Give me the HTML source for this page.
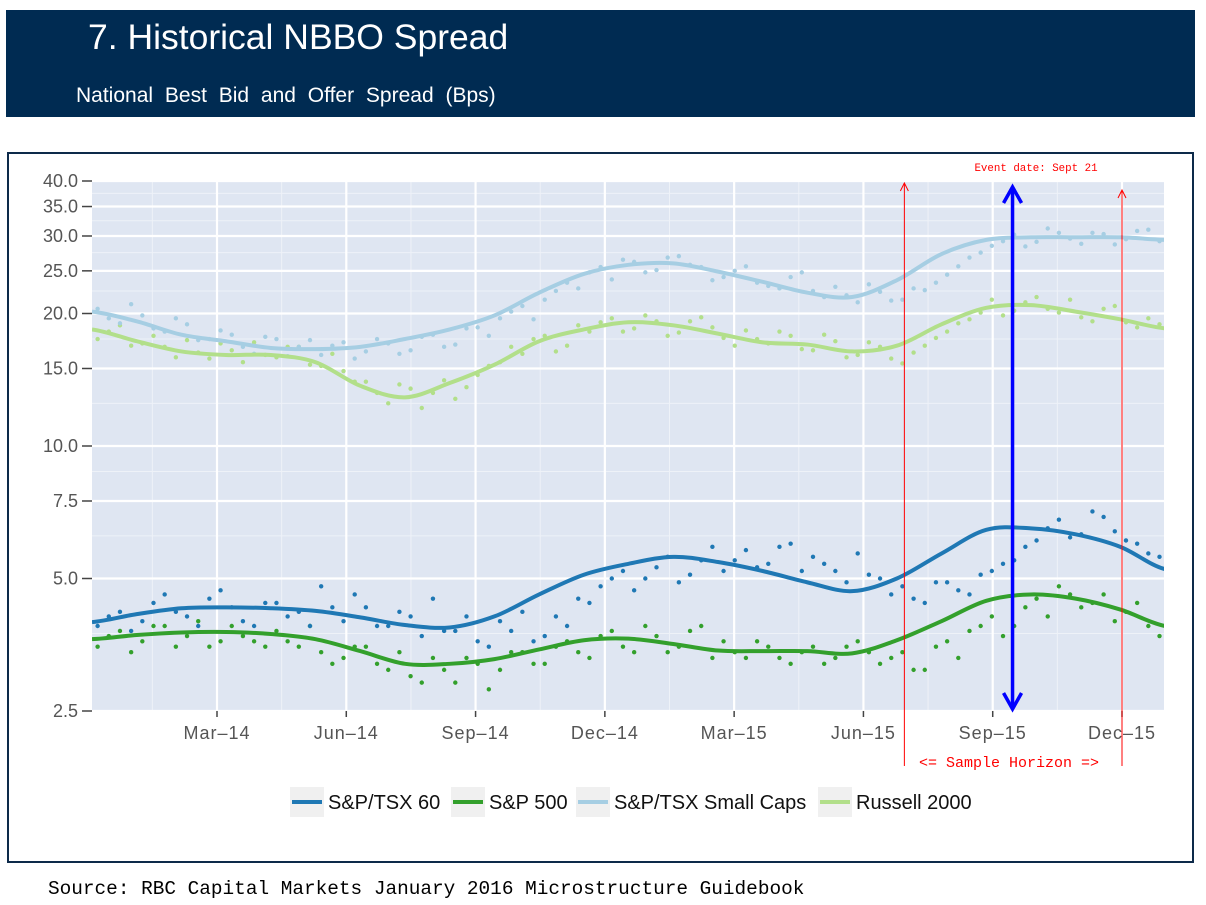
<!DOCTYPE html>
<html><head><meta charset="utf-8"><style>
body{margin:0;width:1206px;height:900px;background:#fff;overflow:hidden;font-family:"Liberation Sans",sans-serif;}
</style></head><body>
<svg id="c" width="1206" height="900" xmlns="http://www.w3.org/2000/svg">
<rect x="6" y="10" width="1189" height="107" fill="#002b52"/>
<text x="88" y="49" fill="#fff" font-size="35.5" font-family="Liberation Sans,sans-serif">7.  Historical NBBO Spread</text>
<text x="76" y="102" fill="#fff" font-size="21" font-family="Liberation Sans,sans-serif" word-spacing="6">National Best Bid and Offer Spread (Bps)</text>
<rect x="8" y="153" width="1185" height="709" fill="#fff" stroke="#0d2a4a" stroke-width="2"/>
<rect x="92" y="181" width="1072" height="530" fill="#dfe6f2"/>
<g id="grid"></g><g id="pts"></g><g id="lines"></g><g id="axes"></g><g id="ann"></g><g id="legend"></g>
<text x="48" y="894" font-size="19.4" font-family="Liberation Mono,monospace" fill="#000">Source: RBC Capital Markets January 2016 Microstructure Guidebook</text>
</svg>
<script>
const yTicks=[2.5,5.0,7.5,10.0,15.0,20.0,25.0,30.0,35.0,40.0];
const xTickLabels=["Mar–14","Jun–14","Sep–14","Dec–14","Mar–15","Jun–15","Sep–15","Dec–15"];
const xTickMonths=[2,5,8,11,14,17,20,23];
const seriesNames=["S&P/TSX 60","S&P 500","S&P/TSX Small Caps","Russell 2000"];
const seriesColors=["#1f78b4","#33a02c","#a6cee3","#b2df8a"];
const trendTSX60=[3.98,4.15,4.28,4.3,4.28,4.22,4.08,3.92,3.87,4.1,4.6,5.1,5.4,5.6,5.45,5.2,4.9,4.68,5.0,5.7,6.45,6.5,6.3,5.9,5.25];
const trendSP500=[3.64,3.72,3.77,3.78,3.74,3.64,3.42,3.2,3.2,3.28,3.45,3.62,3.65,3.55,3.43,3.42,3.42,3.38,3.62,4.0,4.45,4.6,4.5,4.25,3.9];
const trendSmall=[20.2,19.2,17.9,17.3,16.7,16.6,16.8,17.5,18.4,19.8,22.3,24.6,25.8,26,24.9,23.6,22.3,21.8,23.8,27.3,29.4,29.8,29.8,29.8,29.4];
const trendRussell=[18.4,17.3,16.4,16.1,16.1,15.5,13.7,12.9,13.9,15.3,17.3,18.4,19.1,18.8,18,17.2,17,16.4,16.9,18.9,20.6,20.9,20.2,19.4,18.5];
const ptsTSX60=[3.9,4.2,4.0,4.6,4.1,4.5,4.3,3.9,4.4,4.2,4.8,4.0,4.3,3.9,4.1,4.5,3.8,3.6,4.0,4.2,3.7,3.9,4.4,5.0,4.7,5.3,4.9,5.5,5.2,5.8,5.4,6.0,5.6,5.2,5.7,5.0,4.8,4.4,4.9,4.6,5.2,5.5,6.1,6.8,6.3,6.9,6.1,5.7];
const ptsSP500=[3.5,3.8,3.6,3.9,3.7,3.5,3.9,3.6,3.8,3.5,3.4,3.3,3.5,3.1,3.0,3.3,2.9,3.2,3.1,3.4,3.2,3.6,3.3,3.8,3.4,3.7,3.5,3.9,3.6,3.3,3.5,3.2,3.5,3.3,3.6,3.2,3.4,3.1,3.6,3.8,4.1,3.9,4.5,4.8,4.3,4.6,4.2,3.9];
const ptsSmall=[20.5,19,19.8,18.2,18.9,17.5,17.9,16.2,17.5,16.8,16.1,17.2,16.4,17.1,16.5,17.9,17.0,18.6,19.5,20.8,21.5,23.5,24.8,23.9,26.2,25.1,27,25.5,24.2,25.6,23.1,24.2,22.5,23,21.2,22.4,21.5,22.6,24.5,26.8,28.5,30.2,29.1,30.5,28.8,30.3,29.5,31];
const ptsRussell=[17.5,18.8,17.1,16.8,17.4,15.8,16.5,17.2,15.9,16.8,15.2,14.8,14,12.5,13.5,13.2,12.8,14.5,15.5,16.2,17.8,16.9,18.2,19.5,18.5,19.2,18.1,19.6,17.6,18.3,17.1,17.8,16.5,17.3,16.1,16.8,15.4,16.9,18.2,19.4,21.5,20.3,21.8,20.1,19.6,20.5,19.1,19.5];
const ptsTSX60b=[4.1,3.8,4.4,4.2,3.9,4.7,4.0,4.4,4.1,3.9,4.3,4.6,3.9,4.2,3.7,3.8,4.1,3.5,3.8,3.6,4.1,4.5,4.8,5.2,5.0,5.6,5.1,5.9,5.5,5.3,5.9,5.2,5.4,4.9,5.1,4.6,4.5,4.9,4.7,5.1,5.4,5.9,6.5,6.2,7.1,6.4,6.0,5.6];
const ptsSP500b=[3.7,3.4,3.9,3.5,4.0,3.6,3.7,3.5,3.6,3.9,3.2,3.5,3.2,3.4,2.9,3.1,3.3,2.8,3.4,3.2,3.5,3.4,3.7,3.5,3.9,3.4,3.8,3.3,3.4,3.6,3.3,3.4,3.2,3.5,3.4,3.3,3.1,3.5,3.3,3.9,3.7,4.3,4.1,4.6,4.4,4.0,4.4,3.7];
const ptsSmallb=[19.5,21,18.5,19.5,17.4,18.3,16.8,17.7,16.0,17.4,16.9,15.8,17.5,16.2,17.7,16.8,18.5,17.8,20.2,19.4,22.5,22.8,25.5,26.5,24.8,26.8,25.8,23.8,25,23.5,22.8,24.8,21.8,22,23.3,21.4,22.8,23.5,25.6,27.5,29.2,28.4,31.2,29.6,30.5,28.7,30.8,29.2];
const ptsRussellb=[18.2,16.9,17.8,15.9,16.3,17.1,15.5,16.1,16.8,15.3,16.2,14,13.2,13.8,12.2,14.1,13.6,15.2,16.8,17.5,16.4,18.8,19.1,18.2,19.8,17.8,19.2,18.6,16.9,17.5,18.2,16.6,17.9,15.9,17.2,15.8,16.3,17.6,19,20.1,19.8,21.2,20.5,21.5,19.2,20.8,18.6,18.9];
const eventMonth=20.46, horizonStart=17.95, horizonEnd=23;
const startMonth=-0.9, endMonth=24;

const X0=92,X1=1164,Y0=711,Y1=181;
const pxPerMonth=(1122-217)/21;
function xs(m){return 217+(m-2)*pxPerMonth;}
function ys(v){return Y0-(Math.log(v/2.5)/Math.log(16))*(Y0-Y1);}
const NS="http://www.w3.org/2000/svg";
function mk(tag,attrs,parent){const e=document.createElementNS(NS,tag);for(const k in attrs)e.setAttribute(k,attrs[k]);document.getElementById(parent).appendChild(e);return e;}

for(let i=0;i<yTicks.length-1;i++){const m=(yTicks[i]+yTicks[i+1])/2;
 const g=mk('line',{x1:X0,x2:X1,y1:ys(m),y2:ys(m),stroke:'#eef2f8','stroke-width':1},'grid');
 
 }
for(let i=-1;i<xTickMonths.length;i++){const m=i<0?0.5:xTickMonths[i]+1.5;const x=xs(m);if(x<X0||x>X1)continue;
 const g=mk('line',{x1:x,x2:x,y1:Y1,y2:Y0,stroke:'#eef2f8','stroke-width':1},'grid');
 
 }
yTicks.forEach(v=>{const y=ys(v);
 const g=mk('line',{x1:X0,x2:X1,y1:y,y2:y,stroke:'#fff','stroke-width':2.2},'grid');
 
 
 const t=mk('line',{x1:X0-10,x2:X0,y1:y,y2:y,stroke:'#444','stroke-width':1.5},'axes');
 
 
 const l=mk('text',{x:X0-14,y:y+6,'text-anchor':'end','font-size':18,fill:'#555'},'axes');
 l.textContent=v.toFixed(1);
 
 });
xTickMonths.forEach((m,i)=>{const x=xs(m);
 const g=mk('line',{x1:x,x2:x,y1:Y1,y2:Y0,stroke:'#fff','stroke-width':2.2},'grid');
 
 
 const t=mk('line',{x1:x,x2:x,y1:Y0,y2:Y0+6,stroke:'#444','stroke-width':1.5},'axes');
 
 
 const l=mk('text',{x:x,y:Y0+28,'text-anchor':'middle','font-size':18,'letter-spacing':1,fill:'#555'},'axes');
 l.textContent=xTickLabels[i];
 
 });

const trends=[trendTSX60,trendSP500,trendSmall,trendRussell];
const ptsA=[ptsTSX60,ptsSP500,ptsSmall,ptsRussell];
const ptsB=[ptsTSX60b,ptsSP500b,ptsSmallb,ptsRussellb];
const order=[3,2,1,0];
const span=endMonth-startMonth;
order.forEach(s=>{[ptsA[s],ptsB[s]].forEach((arr,k)=>{arr.forEach((v,i)=>{const m=startMonth+(i+0.25+k*0.5)*span/arr.length;
 const c=mk('circle',{cx:xs(m),cy:ys(v),r:2.2,fill:seriesColors[s]},'pts');
 
 });});});
order.forEach(s=>{const tr=trends[s];const step=span/(tr.length-1);const sp=step*pxPerMonth;
 const tx=i=>xs(startMonth+i*step);
 let d='';tr.forEach((v,i)=>{const x=tx(i),y=ys(v);
  if(i===0)d+='M'+x+','+y;else{const px=tx(i-1),py=ys(tr[i-1]);
   const p0y=i>1?ys(tr[i-2]):py, p3y=i<tr.length-1?ys(tr[i+1]):y;
   d+=' C'+(px+sp/3)+','+(py+(y-p0y)/6)+' '+(x-sp/3)+','+(y-(p3y-py)/6)+' '+x+','+y;}});
 const p=mk('path',{d:d,fill:'none',stroke:seriesColors[s],'stroke-width':4},'lines');
 
 });
mk('clipPath',{id:'cp'},'lines').appendChild(document.createElementNS(NS,'rect'));
const cr=document.querySelector('#cp rect');cr.setAttribute('x',X0);cr.setAttribute('y',Y1);cr.setAttribute('width',X1-X0);cr.setAttribute('height',Y0-Y1);
document.getElementById('lines').setAttribute('clip-path','url(#cp)');
document.getElementById('pts').setAttribute('clip-path','url(#cp)');

[horizonStart,horizonEnd].forEach((m,i)=>{const x=xs(m),top=i?190:183;
 const l=mk('line',{x1:x,x2:x,y1:top,y2:766,stroke:'#f00','stroke-width':1},'ann');
 
 
 const a=mk('path',{d:`M${x-4},${top+8} L${x},${top} L${x+4},${top+8}`,fill:'none',stroke:'#f00','stroke-width':1},'ann');
 
 });
const ex=xs(eventMonth);
const ev=mk('line',{x1:ex,x2:ex,y1:190,y2:706,stroke:'#00f','stroke-width':3.5},'ann');


const eh=mk('path',{d:`M${ex-9},${203} L${ex},${187} L${ex+9},${203} M${ex-9},${693} L${ex},${709} L${ex+9},${693}`,fill:'none',stroke:'#00f','stroke-width':3.5},'ann');


const et=mk('text',{x:1036,y:171,'text-anchor':'middle','font-size':10.8,fill:'#f00','font-family':'Liberation Mono,monospace'},'ann');
et.textContent='Event date: Sept 21';


const ht=mk('text',{x:1009,y:767,'text-anchor':'middle','font-size':15,fill:'#f00','font-family':'Liberation Mono,monospace'},'ann');
ht.textContent='<= Sample Horizon =>';



const lx=[290,451,576,818];
seriesNames.forEach((n,i)=>{
 const bg=mk('rect',{x:lx[i],y:787,width:34,height:30,fill:'#f0f0f0'},'legend');
 
 
 const k=mk('line',{x1:lx[i]+2,x2:lx[i]+32,y1:802,y2:802,stroke:seriesColors[i],'stroke-width':4},'legend');
 
 
 const t=mk('text',{x:lx[i]+38,y:809,'font-size':20,fill:'#111'},'legend');
 t.textContent=n;
 
 });
</script>
</body></html>
